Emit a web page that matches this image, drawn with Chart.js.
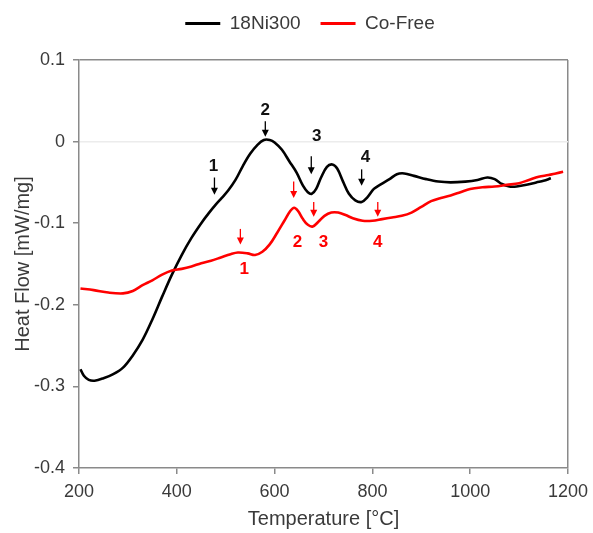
<!DOCTYPE html>
<html>
<head>
<meta charset="utf-8">
<script src="https://cdn.jsdelivr.net/npm/chart.js@4/dist/chart.umd.min.js"></script>
<style>
html,body{margin:0;padding:0;background:#fff;}
#wrap{width:593px;height:533px;position:relative;}
</style>
</head>
<body>
<div id="wrap"><canvas id="c" width="593" height="533"></canvas></div>
<script>
// ---- data (Temperature [°C], Heat Flow [mW/mg]) ----
const seriesNames = ['18Ni300', 'Co-Free'];
const xTicks = [200, 400, 600, 800, 1000, 1200];
const yTicks = [0.1, 0, -0.1, -0.2, -0.3, -0.4];

const temp18Ni300 = [203,210,220,232,250,270,290,310,330,350,370,390,410,430,450,465,480,492,505,520,535,550,565,578,590,600,615,630,645,658,668,676,685,695,707,718,728,740,752,765,778,790,803,818,835,850,865,885,910,935,960,990,1015,1035,1050,1065,1080,1095,1115,1135,1150,1165];
const heat18Ni300 = [-0.279,-0.287,-0.292,-0.293,-0.290,-0.285,-0.277,-0.262,-0.243,-0.218,-0.190,-0.163,-0.139,-0.118,-0.100,-0.088,-0.077,-0.069,-0.060,-0.047,-0.030,-0.015,-0.004,0.002,0.002,-0.001,-0.010,-0.024,-0.038,-0.054,-0.062,-0.064,-0.058,-0.044,-0.031,-0.028,-0.033,-0.049,-0.064,-0.072,-0.074,-0.068,-0.058,-0.052,-0.046,-0.040,-0.039,-0.042,-0.046,-0.049,-0.050,-0.049,-0.047,-0.044,-0.046,-0.052,-0.055,-0.055,-0.053,-0.050,-0.048,-0.045];

const tempCoFree = [203,230,260,290,310,330,350,370,390,410,430,450,470,490,510,525,545,560,575,590,605,620,632,640,648,658,668,678,690,702,716,730,745,760,780,800,820,840,860,880,900,920,940,960,980,1000,1025,1050,1075,1100,1120,1140,1160,1175,1190];
const heatCoFree = [-0.180,-0.182,-0.185,-0.186,-0.183,-0.176,-0.170,-0.163,-0.158,-0.156,-0.153,-0.149,-0.146,-0.142,-0.138,-0.136,-0.137,-0.139,-0.135,-0.126,-0.112,-0.097,-0.085,-0.081,-0.085,-0.095,-0.102,-0.104,-0.098,-0.091,-0.087,-0.087,-0.090,-0.094,-0.097,-0.097,-0.095,-0.093,-0.091,-0.087,-0.080,-0.073,-0.069,-0.066,-0.062,-0.058,-0.056,-0.055,-0.053,-0.051,-0.047,-0.043,-0.041,-0.039,-0.037];

// peak markers: label, series, arrow temperature, arrow top / tip heat flow, label temperature / heat flow
const markLabels = ['1','2','3','4','1','2','3','4'];
const markSeries = [0,0,0,0,1,1,1,1];
const markTemp   = [477,581,675,778,530,639,680,811];
const markTop    = [-0.044,0.025,-0.018,-0.034,-0.107,-0.049,-0.074,-0.074];
const markTip    = [-0.065,0.006,-0.040,-0.054,-0.126,-0.069,-0.092,-0.092];
const markLabT   = [475,581,686,786,538,647,700,811];
const markLabH   = [-0.030,0.038,0.007,-0.019,-0.157,-0.124,-0.124,-0.124];

const colors = ['#000000', '#ff0000'];
const FONT = "'Liberation Sans', Arial, sans-serif";
const TXT = '#3a3a3a';

const toPts = (xs, ys) => xs.map((x, i) => ({x: x, y: ys[i]}));
const near = (a, b) => Math.abs(a - b) < 1e-9;

const legendGap = {
  id: 'legendGap',
  beforeLayout(chart) {
    const lg = chart.legend;
    if (lg && !lg._gapPatched) {
      const f = lg.fit;
      lg.fit = function () { f.call(this); this.height = 66; };
      const d = lg.draw;
      lg.draw = function () { const c = this.ctx; c.save(); c.translate(26, 0); d.call(this); c.restore(); };
      lg._gapPatched = true;
    }
  }
};

const markers = {
  id: 'markers',
  afterDatasetsDraw(chart) {
    const {ctx, scales: {x, y}} = chart;
    ctx.save();
    for (let i = 0; i < markLabels.length; i++) {
      const col = colors[markSeries[i]];
      const px = x.getPixelForValue(markTemp[i]);
      const y0 = y.getPixelForValue(markTop[i]);
      const y1 = y.getPixelForValue(markTip[i]);
      ctx.strokeStyle = col; ctx.fillStyle = col; ctx.lineWidth = 1.3;
      ctx.beginPath(); ctx.moveTo(px, y0); ctx.lineTo(px, y1 - 6); ctx.stroke();
      ctx.beginPath(); ctx.moveTo(px - 3.5, y1 - 7); ctx.lineTo(px + 3.5, y1 - 7); ctx.lineTo(px, y1); ctx.closePath(); ctx.fill();
      ctx.font = 'bold 17px ' + FONT;
      ctx.textAlign = 'center'; ctx.textBaseline = 'middle';
      ctx.fillStyle = markSeries[i] === 0 ? '#111' : col;
      ctx.fillText(markLabels[i], x.getPixelForValue(markLabT[i]), y.getPixelForValue(markLabH[i]));
    }
    ctx.restore();
  }
};

new Chart(document.getElementById('c'), {
  type: 'line',
  data: {
    datasets: [
      {label: seriesNames[0], data: toPts(temp18Ni300, heat18Ni300), borderColor: colors[0], backgroundColor: colors[0], borderWidth: 2.6, pointRadius: 0, tension: 0.35, order: 1},
      {label: seriesNames[1], data: toPts(tempCoFree, heatCoFree), borderColor: colors[1], backgroundColor: colors[1], borderWidth: 2.6, pointRadius: 0, tension: 0.35, order: 0}
    ]
  },
  options: {
    responsive: false,
    animation: false,
    layout: {padding: {top: -6, right: 25, left: 0, bottom: 0}},
    plugins: {
      tooltip: {enabled: false},
      legend: {
        display: true,
        position: 'top',
        labels: {
          font: {family: FONT, size: 19},
          color: TXT,
          boxWidth: 35,
          boxHeight: 3,
          padding: 20,
          generateLabels: (chart) => chart.data.datasets.map((d, i) => ({
            text: d.label, fillStyle: colors[i], strokeStyle: colors[i], lineWidth: 0, hidden: false, datasetIndex: i, fontColor: TXT
          }))
        }
      }
    },
    scales: {
      x: {
        type: 'linear',
        min: 200, max: 1200,
        afterBuildTicks: (s) => { s.ticks = xTicks.map(v => ({value: v})); },
        afterFit: (s) => { s.height = 65; s.paddingRight = 0; s.paddingLeft = 0; },
        ticks: {font: {family: FONT, size: 18}, color: TXT, padding: 7, maxRotation: 0, callback: (v) => String(v)},
        grid: {
          color: (c) => (c.tick && near(c.tick.value, 1200)) ? '#8a8a8a' : 'rgba(0,0,0,0)',
          lineWidth: 1.5,
          tickColor: '#8a8a8a',
          tickLength: 6
        },
        border: {color: '#8a8a8a', width: 1.5},
        title: {display: true, text: 'Temperature [°C]', font: {family: FONT, size: 20}, color: TXT, padding: {top: 0, bottom: 2}}
      },
      y: {
        min: -0.4, max: 0.1,
        afterBuildTicks: (s) => { s.ticks = yTicks.slice().reverse().map(v => ({value: v})); },
        afterFit: (s) => { s.width = 79; },
        ticks: {font: {family: FONT, size: 18}, color: TXT, padding: 8, callback: (v) => { const r = Math.round(v * 10) / 10; return r === 0 ? '0' : String(r); }},
        grid: {
          color: (c) => {
            if (!c.tick) return 'rgba(0,0,0,0)';
            if (near(c.tick.value, 0.1)) return '#8a8a8a';
            if (near(c.tick.value, 0)) return '#ececec';
            return 'rgba(0,0,0,0)';
          },
          lineWidth: 1.5,
          tickColor: '#8a8a8a',
          tickLength: 6
        },
        border: {color: '#8a8a8a', width: 1.5},
        title: {display: true, text: 'Heat Flow [mW/mg]', font: {family: FONT, size: 20}, color: TXT, padding: {top: 11, bottom: 0}}
      }
    }
  },
  plugins: [legendGap, markers]
});
</script>
</body>
</html>
